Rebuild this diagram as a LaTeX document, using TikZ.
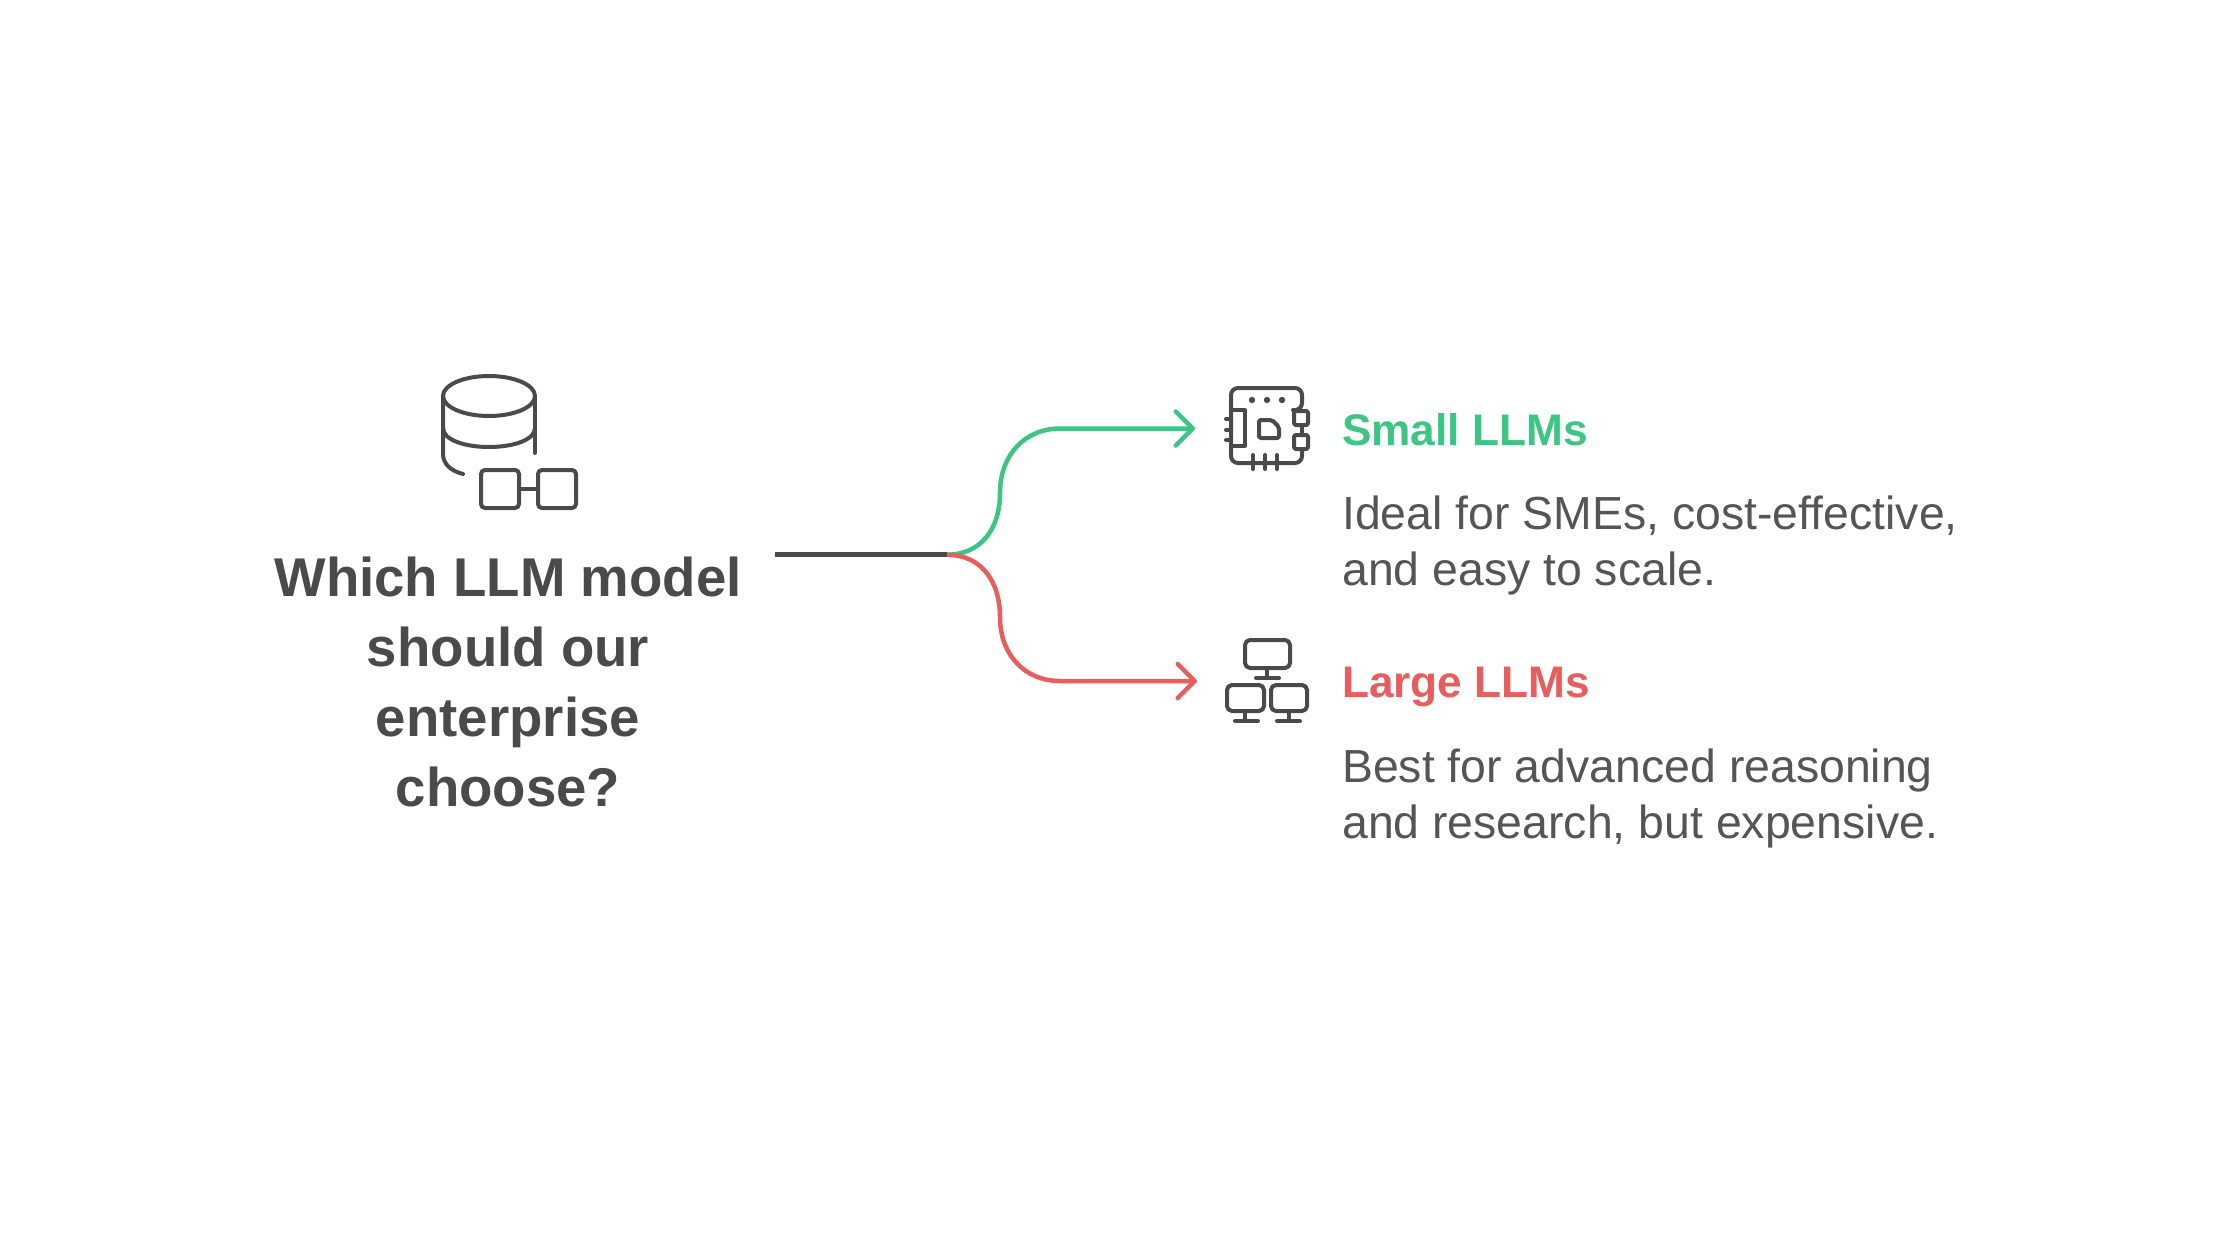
\documentclass[tikz,border=0pt]{standalone}
\usepackage{fontspec}
\setmainfont{Liberation Sans}
\usetikzlibrary{arrows.meta}
\definecolor{ink}{HTML}{4A4A4A}
\definecolor{body}{HTML}{555555}
\definecolor{gr}{HTML}{3CC583}
\definecolor{rd}{HTML}{E85E5E}
\tikzset{
  x=1pt,y=-1pt,
  icon/.style={draw=ink,line width=4pt,line cap=round,line join=round},
  flow/.style={line width=4.5pt,line cap=round},
  tipbarb/.style={-{Straight Barb[length=17pt,width=34pt,line width=4.5pt,round]}},
  titletext/.style={font=\fontsize{54.6}{70}\selectfont\bfseries,text=ink,align=center,inner sep=0pt},
  headtext/.style={font=\fontsize{44.2}{56}\selectfont\bfseries,anchor=base west,inner sep=0pt},
  bodytext/.style={font=\fontsize{46.4}{56}\selectfont,text=body,anchor=base west,align=left,inner sep=0pt}
}
\begin{document}
\begin{tikzpicture}
\useasboundingbox (0,0) rectangle (2240,1260);
\fill[white] (0,0) rectangle (2240,1260);
% title
\node[titletext] (title) at (508,681.5) {Which LLM model\\should our\\enterprise\\choose?};
% database icon
\draw[icon] (489,396) ellipse (46 and 20);
\draw[icon] (443,396) -- (443,454) .. controls (443,464) and (451,471) .. (463,474);
\draw[icon] (535,396) -- (535,453);
\draw[icon] (443,428) .. controls (443,440) and (465,447) .. (489,447) .. controls (513,447) and (535,440) .. (535,428);
\draw[icon,rounded corners=4pt] (481,470) rectangle (519,508);
\draw[icon,rounded corners=4pt] (538,470) rectangle (576,508);
\draw[icon] (519,489) -- (538,489);
% connectors
\coordinate (start) at (775,554.7);
\coordinate (fork) at (947,554.7);
\coordinate (tipA) at (1195,428.5);
\coordinate (tipB) at (1197,681);
\draw[flow,gr,tipbarb] (fork) .. controls (980,554.7) and (1000,530) .. (1000,493) .. controls (1000,455) and (1025,428.5) .. (1060,428.5) -- (tipA);
\draw[flow,rd,tipbarb] (fork) .. controls (980,554.7) and (1000,580) .. (1000,617) .. controls (1000,655) and (1025,681) .. (1060,681) -- (tipB);
\draw[flow,ink,line cap=butt] (start) -- (fork);
% chip icon
\draw[icon,rounded corners=7pt] (1293,410) -- (1302,410) -- (1302,388) -- (1231,388) -- (1231,463) -- (1302,463) -- (1302,449);
\draw[icon] (1302,425) -- (1302,435);
\draw[icon] (1231,410) -- (1245,410) -- (1245,446) -- (1231,446);
\foreach \y in {419,430,440} \draw[icon] (1226,\y) -- (1231,\y);
\foreach \x in {1253,1265,1277} \draw[icon] (\x,455) -- (\x,469);
\foreach \x in {1252,1267,1282} \fill[ink] (\x,400) circle (3.2);
\draw[icon,rounded corners=2pt] (1294,411) rectangle (1308,425);
\draw[icon,rounded corners=2pt] (1294,435) rectangle (1308,449);
\draw[icon,rounded corners=2pt] (1259,420) -- (1272,420) -- (1279,427) -- (1279,438) -- (1259,438) -- cycle;
% network icon
\draw[icon,rounded corners=5pt] (1245,640) rectangle (1290,668);
\draw[icon] (1267,668) -- (1267,678);
\draw[icon] (1256,678) -- (1279,678);
\draw[icon,rounded corners=5pt] (1227,685) rectangle (1264,711);
\draw[icon] (1245,711) -- (1245,721);
\draw[icon] (1235,721) -- (1258,721);
\draw[icon,rounded corners=5pt] (1271,685) rectangle (1307,711);
\draw[icon] (1289,711) -- (1289,721);
\draw[icon] (1277,721) -- (1300,721);
% labels
\node[headtext,text=gr] (small) at (1342,445) {Small LLMs};
\node[bodytext] (smalld) at (1342,585) {Ideal for SMEs, cost-effective,\\and easy to scale.};
\node[headtext,text=rd] (large) at (1342,697) {Large LLMs};
\node[bodytext] (larged) at (1342,838) {Best for advanced reasoning\\and research, but expensive.};
\end{tikzpicture}
\end{document}
